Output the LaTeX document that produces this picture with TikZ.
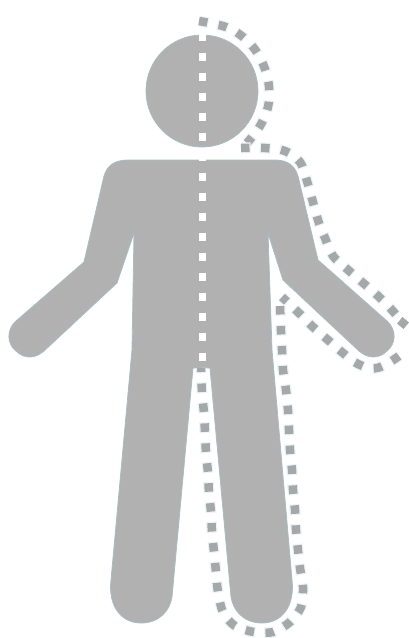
\documentclass[tikz,border=0pt]{standalone}
\definecolor{figgray}{HTML}{B1B1B1}
\definecolor{figedge}{HTML}{A9BDC1}
\definecolor{trimgray}{HTML}{A5A8A8}
\definecolor{trimhalo}{HTML}{EFF5F6}
\tikzset{
   figure/.style={fill=figgray, draw=figedge, line width=.8pt},
   midline/.style={white, line width=7pt, dash pattern=on 8pt off 12pt},
   trimline/.style={trimgray, line width=8.5pt, dash pattern=on 8.5pt off 11.5pt, line join=round,
      preaction={draw=trimhalo, line width=11pt, dash pattern=on 11pt off 9pt, dash phase=1.25pt}},
}
\begin{document}
\begin{tikzpicture}[x=1pt, y=-1pt, inner sep=0pt]
   \useasboundingbox (0,0) rectangle (409,638);
   \node[figure, circle, minimum size=112pt] (head) at (202,91) {};
   % body, starting at the left shoulder
   \draw[figure] (128,160) -- (275,160) .. controls (288,160) and (295,166) .. (298,176)
      -- (318,260) -- (387,321) .. controls (397,330) and (396,344) .. (387,351)
      .. controls (379,359) and (368,359) .. (359,351) -- (283,280) -- (268,233)
      -- (272,350) -- (292,580) .. controls (295,606) and (282,623) .. (262,623)
      .. controls (243,623) and (233,610) .. (231,597) -- (210,368) -- (193,368)
      -- (172,597) .. controls (170,610) and (160,623) .. (141,623)
      .. controls (121,623) and (108,606) .. (111,580) -- (132,350) -- (134,233)
      -- (117,283) -- (44,351) .. controls (35,359) and (24,359) .. (16,351)
      .. controls (7,344) and (6,330) .. (16,321) -- (84,262) -- (104,176)
      .. controls (107,166) and (114,160) .. (128,160) -- cycle;
   \coordinate (midtop) at (202,33);
   \coordinate (midbot) at (202,361);
   \draw[midline] (midtop) -- (midbot);
   % trim line round the head
   \draw[trimline] plot[smooth, tension=.6] coordinates {(199,21) (226,27) (243,37) (256,51)
      (265,69) (269,87) (268,107) (260,126) (247,143)};
   % trim line round the arm and the leg
   \draw[trimline] plot[smooth, tension=.5] coordinates {(241,148) (265,148) (285,151) (300,162)
      (307,181) (318,220) (325,238) (333,256) (347,269) (362,282) (377,295) (391,309) (403,323)};
   \node[trimgray, fill, rotate=50, minimum size=8.5pt] (tip) at (403,323) {};
   \draw[trimline] plot[smooth, tension=.7] coordinates {(399,356) (377,368) (358,364)
      (343,353) (328,340) (313,327) (299,313) (282,297)};
   \draw[trimline] plot[smooth, tension=.5] coordinates {(280,306) (281,331) (282,350)
      (283,370) (286,390) (288,410) (289,430) (290,450) (292,470) (293,490) (295,510) (296,530)
      (298,550) (300,568) (303,587) (301,607) (290,622) (273,632) (254,632) (235,626) (223,612)
      (218,592) (216,572) (214,552) (212,532) (211,512) (209,493) (208,473) (206,453) (205,433)
      (204,413) (202,393) (201,368)};
\end{tikzpicture}
\end{document}
